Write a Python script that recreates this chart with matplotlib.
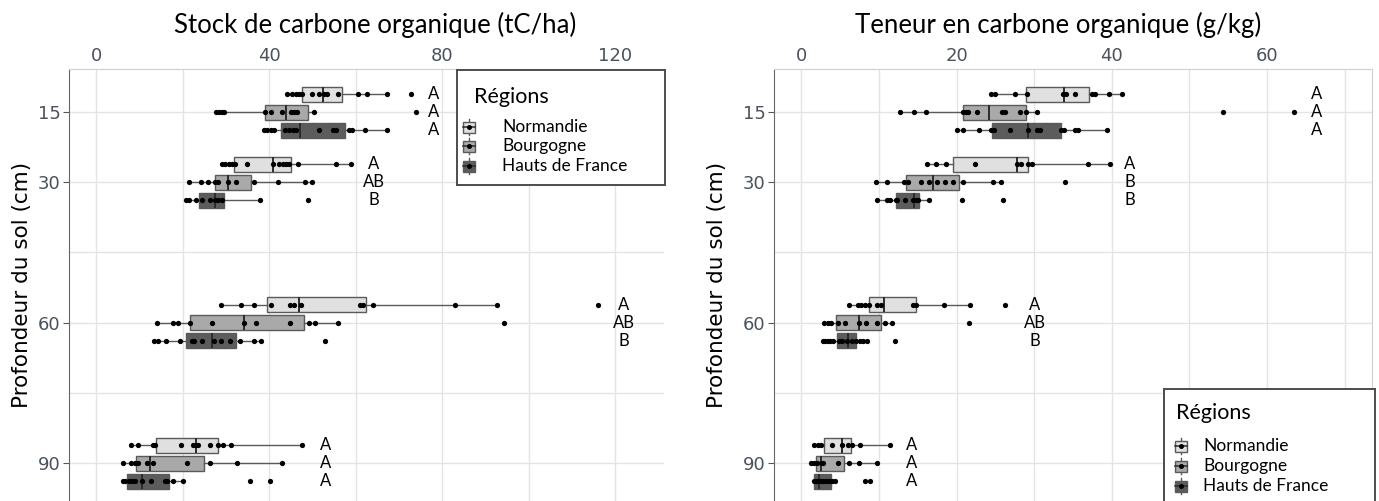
import numpy as np
import matplotlib
matplotlib.use("Agg")
import matplotlib.pyplot as plt
from matplotlib.patches import Rectangle
from matplotlib import font_manager

# depths and regions
depths = [15, 30, 60, 90]
regions = ["Normandie", "Bourgogne", "Hauts de France"]
fills = ["#e0e0e0", "#a9a9a9", "#5c5c5c"]
offsets = [-3.85, 0.0, 3.85]

# --- Stock de carbone organique (tC/ha) : per depth, per region ---
stock_q1 = [[47.6, 39.0, 42.8], [31.8, 27.4, 23.8], [39.4, 21.6, 20.9], [13.9, 9.2, 7.2]]
stock_med = [[52.4, 44.0, 47.1], [40.9, 30.5, 27.4], [47.0, 34.2, 26.8], [23.0, 12.4, 10.6]]
stock_q3 = [[56.9, 48.9, 57.6], [45.0, 35.9, 29.5], [62.4, 48.1, 32.3], [28.1, 25.0, 16.8]]
stock_lo = [[44.2, 27.8, 38.9], [29.1, 21.5, 20.8], [28.9, 14.1, 13.3], [8.1, 6.3, 6.3]]
stock_hi = [[67.2, 50.3, 67.2], [58.9, 49.9, 37.9], [92.6, 55.8, 38.1], [47.6, 42.9, 20.0]]

stock_pts_15 = [[44.2, 45.2, 46.1, 46.9, 47.6, 49.9, 51.5, 52.7, 53.3, 55.9, 60.5, 62.7, 67.2, 72.8],
                [27.8, 28.4, 29.0, 29.5, 39.0, 40.5, 42.9, 45.0, 45.7, 46.5, 50.3, 74.0],
                [38.9, 39.6, 40.4, 41.2, 43.6, 44.6, 45.5, 46.3, 51.5, 54.7, 55.5, 58.5, 59.2, 62.1, 67.2]]
stock_pts_30 = [[29.1, 29.9, 30.7, 31.4, 32.2, 34.9, 40.9, 42.3, 43.2, 44.0, 44.7, 46.6, 55.5, 58.9],
                [21.5, 24.2, 25.9, 27.4, 28.2, 30.5, 32.4, 36.6, 42.1, 48.4, 49.9],
                [20.8, 21.5, 23.2, 24.4, 26.3, 27.4, 28.2, 29.2, 37.9, 49.0]]
stock_pts_60 = [[28.9, 33.6, 36.5, 40.4, 44.9, 45.8, 47.4, 61.0, 61.8, 64.1, 82.9, 92.6, 116.0],
                [14.1, 17.8, 19.0, 21.6, 26.8, 34.2, 36.9, 44.9, 49.1, 50.5, 55.8, 94.2],
                [13.3, 14.3, 16.1, 19.4, 22.1, 22.7, 24.5, 27.2, 28.9, 30.9, 33.3, 36.5, 38.1, 52.8]]
stock_pts_90 = [[8.1, 9.8, 13.1, 13.7, 19.7, 22.5, 23.1, 23.5, 26.4, 28.1, 29.3, 31.2, 47.6],
                [6.3, 8.1, 8.9, 9.8, 11.8, 13.2, 21.1, 26.4, 32.6, 42.9],
                [6.3, 6.8, 7.5, 8.3, 9.1, 10.6, 12.6, 15.9, 16.4, 17.8, 20.0, 35.5, 40.2]]
stock_pts = [stock_pts_15, stock_pts_30, stock_pts_60, stock_pts_90]
stock_letters = [["A", "A", "A"], ["A", "AB", "B"], ["A", "AB", "B"], ["A", "A", "A"]]
stock_letter_x = [78.1, 64.2, 121.9, 53.0]

# --- Teneur en carbone organique (g/kg) ---
ten_q1 = [[28.9, 20.9, 24.6], [19.5, 13.5, 12.2], [8.7, 4.5, 4.6], [2.9, 1.9, 1.6]]
ten_med = [[33.9, 24.2, 29.2], [27.8, 17.0, 14.5], [10.6, 7.4, 6.0], [5.2, 2.6, 2.3]]
ten_q3 = [[37.1, 28.9, 33.5], [29.2, 20.3, 15.2], [14.8, 10.3, 7.0], [6.4, 5.5, 3.8]]
ten_lo = [[24.5, 12.7, 20.1], [16.2, 9.6, 9.7], [6.2, 3.0, 2.8], [1.7, 1.2, 1.6]]
ten_hi = [[41.3, 30.4, 39.4], [39.7, 25.7, 16.5], [21.7, 11.7, 8.5], [11.4, 9.7, 4.4]]

ten_pts_15 = [[24.5, 24.9, 27.5, 29.1, 33.7, 34.1, 35.3, 37.4, 37.8, 39.6, 41.3],
              [12.7, 14.5, 16.1, 20.8, 21.2, 21.5, 22.6, 25.9, 26.2, 28.2, 28.9, 30.4, 54.3, 63.4],
              [20.1, 20.9, 22.9, 24.5, 24.8, 26.9, 29.2, 30.4, 30.8, 33.5, 33.9, 35.3, 35.7, 39.4]]
ten_pts_30 = [[16.2, 17.3, 18.6, 22.4, 27.8, 28.3, 29.2, 29.7, 36.9, 39.7],
              [9.6, 11.1, 13.2, 13.8, 15.4, 16.5, 17.5, 18.5, 19.6, 20.8, 24.7, 25.7, 34.0],
              [9.7, 11.1, 11.5, 12.2, 12.4, 13.4, 14.4, 14.8, 15.1, 16.5, 20.7, 26.0]]
ten_pts_60 = [[6.2, 7.3, 7.7, 8.2, 8.7, 9.8, 10.3, 14.4, 14.8, 18.4, 21.7, 26.2],
              [3.0, 3.4, 3.9, 4.7, 5.7, 7.5, 8.4, 9.8, 10.8, 11.7, 21.6],
              [2.8, 3.1, 3.4, 3.7, 4.1, 4.9, 5.3, 5.9, 6.5, 7.1, 7.6, 8.0, 8.5, 12.1]]
ten_pts_90 = [[1.7, 2.2, 2.6, 4.0, 5.2, 6.0, 6.5, 7.6, 11.4],
              [1.2, 1.6, 2.1, 2.5, 2.8, 4.8, 6.2, 7.4, 9.7],
              [1.6, 1.9, 2.2, 2.5, 2.8, 3.2, 3.6, 4.0, 4.4, 8.2, 8.8]]
ten_pts = [ten_pts_15, ten_pts_30, ten_pts_60, ten_pts_90]
ten_letters = [["A", "A", "A"], ["A", "B", "B"], ["A", "AB", "B"], ["A", "A", "A"]]
ten_letter_x = [66.4, 42.3, 30.1, 14.2]

W, H = 1379, 501
LATO = ["Lato", "DejaVu Sans"]
TICK_COL = "#4a525c"

# condensed font for tick labels if we have one
try:
    font_manager.findfont("Liberation Sans Narrow", fallback_to_default=False)
    TICK_FONT, TICK_SIZE = "Liberation Sans Narrow", 15.5
except ValueError:
    TICK_FONT, TICK_SIZE = "DejaVu Sans", 13

fig = plt.figure(figsize=(W / 100, H / 100), dpi=100)
fig.patch.set_facecolor("white")


def px_axes(x0, y0, x1, y1):
    return fig.add_axes([x0 / W, 1 - y1 / H, (x1 - x0) / W, (y1 - y0) / H])


def draw_panel(ax, q1, med, q3, lo, hi, pts, letters, letter_x, xlim, xmaj, xmin):
    for i, d in enumerate(depths):
        for j in range(3):
            y = d + offsets[j]
            stats = [dict(med=med[i][j], q1=q1[i][j], q3=q3[i][j],
                          whislo=lo[i][j], whishi=hi[i][j], fliers=[])]
            ax.bxp(stats, positions=[y], widths=3.2, orientation="horizontal",
                   patch_artist=True, showfliers=False, showcaps=False,
                   manage_ticks=False,
                   boxprops=dict(facecolor=fills[j], edgecolor="#5a5a5a", linewidth=1),
                   whiskerprops=dict(color="#5a5a5a", linewidth=1),
                   medianprops=dict(color="#2b2b2b", linewidth=1.4))
            ax.plot(pts[i][j], [y] * len(pts[i][j]), "o", color="black",
                    ms=3.8, mec="none", zorder=5)
            ax.text(letter_x[i], y, letters[i][j], ha="center", va="center",
                    fontsize=12, family=LATO)
    ax.set_xlim(*xlim)
    ax.set_ylim(98.1, 5.8)
    ax.set_xticks(xmaj)
    ax.set_xticks(xmin, minor=True)
    ax.set_yticks(depths)
    ax.set_yticks([45, 75], minor=True)
    ax.grid(True, which="both", color="#e4e4e4", lw=1)
    ax.set_axisbelow(True)
    ax.xaxis.tick_top()
    ax.tick_params(axis="x", which="both", length=0, pad=3,
                   labelsize=TICK_SIZE, labelcolor=TICK_COL)
    ax.tick_params(axis="y", which="major", length=4, color="#555555", pad=2,
                   labelsize=TICK_SIZE, labelcolor=TICK_COL)
    ax.tick_params(axis="y", which="minor", length=0)
    for lab in ax.get_xticklabels() + ax.get_yticklabels():
        lab.set_family(TICK_FONT)
    ax.spines["bottom"].set_visible(False)
    ax.spines["left"].set_color("#666666")
    ax.spines["top"].set_color("#cfcfcf")
    ax.spines["right"].set_color("#cfcfcf")


def draw_legend(x0, y0, x1, y1, title_x, title_y, rows_y, key_x, text_x):
    lg = px_axes(x0, y0, x1, y1)
    lg.set_xlim(x0, x1)
    lg.set_ylim(y1, y0)
    lg.set_xticks([])
    lg.set_yticks([])
    for s in lg.spines.values():
        s.set_color("#4d4d4d")
        s.set_linewidth(1.4)
    lg.text(title_x, title_y, "Régions", fontsize=15.5, ha="left", va="center",
            family=LATO)
    for j, name in enumerate(regions):
        y = rows_y[j]
        lg.plot([key_x, key_x], [y - 8, y + 8], color="#5a5a5a", lw=1)
        lg.add_patch(Rectangle((key_x - 6, y - 5.5), 12, 11, facecolor=fills[j],
                               edgecolor="#5a5a5a", lw=1, zorder=3))
        lg.plot([key_x - 6, key_x + 6], [y, y], color="#2b2b2b", lw=1.1, zorder=4)
        lg.plot(key_x, y, "o", color="black", ms=3.6, mec="none", zorder=5)
        lg.text(text_x, y, name, fontsize=12.5, ha="left", va="center", family=LATO)


# left panel
ax1 = px_axes(69, 69, 664, 501)
draw_panel(ax1, stock_q1, stock_med, stock_q3, stock_lo, stock_hi, stock_pts,
           stock_letters, stock_letter_x, (-6.25, 131.25), [0, 40, 80, 120], [20, 60, 100])
ax1.spines["right"].set_visible(False)

# right panel
ax2 = px_axes(774, 69, 1372, 501)
draw_panel(ax2, ten_q1, ten_med, ten_q3, ten_lo, ten_hi, ten_pts,
           ten_letters, ten_letter_x, (-3.5, 73.5), [0, 20, 40, 60], [10, 30, 50, 70])

# titles and axis labels
fig.text(375 / W, 1 - 25 / H, "Stock de carbone organique (tC/ha)", ha="center",
         va="center", fontsize=18.5, family=LATO)
fig.text(1058 / W, 1 - 25 / H, "Teneur en carbone organique (g/kg)", ha="center",
         va="center", fontsize=18.5, family=LATO)
for xl in (22, 717):
    fig.text(xl / W, 1 - 285 / H, "Profondeur du sol (cm)", rotation=90,
             ha="center", va="center", fontsize=15.5)

# legends
draw_legend(457, 70, 665, 185, 474, 97, [127, 146, 166], 469, 502)
draw_legend(1164, 389, 1375, 530, 1176, 413, [446, 466, 486], 1181, 1203)

fig.savefig("out.png", dpi=100, facecolor="white")
